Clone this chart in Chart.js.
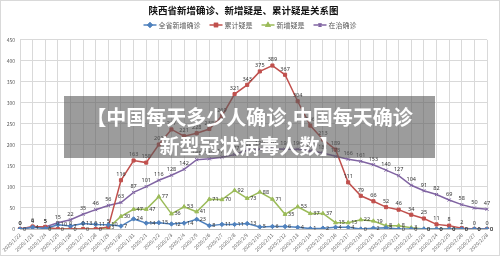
<!DOCTYPE html>
<html>
<head>
<meta charset="utf-8">
<script src="https://cdn.jsdelivr.net/npm/chart.js@4"></script>
<style>
  html, body { margin: 0; padding: 0; background: #fff; }
  #wrap { position: relative; width: 500px; height: 256px; }
  #banner {
    position: absolute; left: 64px; top: 96px; width: 371px; height: 62px;
    background: rgba(90, 90, 90, 0.6); color: #fff; box-sizing: border-box;
    padding-top: 6px; text-align: center; line-height: 25px;
    font: bold 20px "Noto Sans CJK SC", sans-serif;
  }
</style>
</head>
<body>
<div id="wrap">
  <canvas id="chart" width="500" height="256"></canvas>
  <div id="banner">【中国每天多少人确诊,中国每天确诊<br>新型冠状病毒人数】</div>
</div>
<script>
const dates = [
  '2020/1/22', '2020/1/23', '2020/1/24', '2020/1/25', '2020/1/26', '2020/1/27', '2020/1/28',
  '2020/1/29', '2020/1/30', '2020/1/31', '2020/2/1', '2020/2/2', '2020/2/3', '2020/2/4',
  '2020/2/5', '2020/2/6', '2020/2/7', '2020/2/8', '2020/2/9', '2020/2/10', '2020/2/11',
  '2020/2/12', '2020/2/13', '2020/2/14', '2020/2/15', '2020/2/16', '2020/2/17', '2020/2/18',
  '2020/2/19', '2020/2/20', '2020/2/21', '2020/2/22', '2020/2/23', '2020/2/24', '2020/2/25',
  '2020/2/26', '2020/2/27', '2020/2/28'
];
// 全省新增确诊
const newConfirmed = [0, 4, 1, 10, 7, 13, 11, 10, 7, 24, 14, 15, 12, 14, 23, 8, 11, 11, 13, 5,
  6, 6, 4, 1, 2, 4, 4, 0, 2, 3, 0, 0, 0, 0, 0, 0, 0, 0];
// 累计疑是
const cumSuspected = [0, 6, 5, 0, 0, 0, 0, 5, 116, 163, 158, 201, 237, 221, 228, 238, 269, 321, 343, 375,
  389, 367, 304, 246, 213, 189, 111, 79, 66, 52, 46, 34, 25, 11, 8, 2, 0, 0];
// 新增疑是
const newSuspected = [null, null, 0, 0, 0, 0, 0, 3, 30, 47, 47, 77, 36, 53, 41, 71, 70, 92, 73, 88,
  71, 35, 53, 37, 37, 15, 15, 22, 19, 8, 8, 3, 0, 0, 0, 0, 0, 0];
// 在治确诊
const inTreatment = [0, 4, 5, 15, 22, 35, 46, 56, 63, 87, 101, 116, 128, 142, 165, 167, 171, 177, 188, 190,
  191, 190, 190, 186, 181, 173, 166, 161, 153, 140, 127, 104, 91, 82, 69, 58, 50, 47];

const yMax = 450;
const yStep = 50;

Chart.defaults.font.family = '"Noto Sans CJK SC", "Noto Sans", sans-serif';

// white background and thin frame like the Excel chart area
const frame = {
  id: 'frame',
  beforeDraw(chart) {
    const c = chart.ctx;
    c.save();
    c.fillStyle = '#fff';
    c.fillRect(0, 0, chart.width, chart.height);
    c.strokeStyle = '#d9d9d9';
    c.lineWidth = 1;
    c.strokeRect(0.5, 0.5, chart.width - 1, chart.height - 1);
    c.restore();
  }
};

// legend with a line sample and marker, Excel style
const lineLegend = {
  id: 'lineLegend',
  afterDraw(chart) {
    const c = chart.ctx;
    const y = 25;
    const sample = 13, gapText = 2, gapItem = 9;
    c.save();
    c.font = '7px "Noto Sans CJK SC"';
    const sets = chart.data.datasets;
    let total = 0;
    sets.forEach(d => { total += sample + gapText + c.measureText(d.label).width; });
    total += gapItem * (sets.length - 1);
    let x = 250 - total / 2;
    sets.forEach(d => {
      c.strokeStyle = d.borderColor;
      c.lineWidth = 1.5;
      c.beginPath();
      c.moveTo(x, y);
      c.lineTo(x + sample, y);
      c.stroke();
      Chart.helpers.drawPoint(c, {
        pointStyle: d.pointStyle, radius: 2, borderWidth: 1
      }, x + sample / 2, y);
      c.fillStyle = d.borderColor;
      Chart.helpers.drawPoint(c, { pointStyle: d.pointStyle, radius: 2, borderWidth: 1 }, x + sample / 2, y);
      c.fill();
      x += sample + gapText;
      c.fillStyle = '#595959';
      c.textBaseline = 'middle';
      c.textAlign = 'left';
      c.fillText(d.label, x, y);
      x += c.measureText(d.label).width + gapItem;
    });
    c.restore();
  }
};

// value labels: above for red / purple, to the right for blue / green
const valueLabels = {
  id: 'valueLabels',
  afterDatasetsDraw(chart) {
    const c = chart.ctx;
    c.save();
    c.font = '5.5px "Noto Sans", sans-serif';
    c.fillStyle = '#333';
    chart.data.datasets.forEach((d, i) => {
      const meta = chart.getDatasetMeta(i);
      meta.data.forEach((pt, j) => {
        const v = d.data[j];
        if (v === null) return;
        if (d.labelPos === 'top') {
          c.textAlign = 'center';
          c.textBaseline = 'bottom';
          c.fillText(v, pt.x, pt.y - 3);
        } else {
          c.textAlign = 'left';
          c.textBaseline = 'middle';
          c.fillText(v, pt.x + 3, pt.y);
        }
      });
    });
    c.restore();
  }
};

function series(label, data, color, style, labelPos) {
  return {
    label, data, labelPos,
    borderColor: color, backgroundColor: color,
    pointStyle: style, pointRadius: 2.2, pointBorderWidth: 1,
    borderWidth: 1.5, tension: 0, spanGaps: false
  };
}

new Chart(document.getElementById('chart'), {
  type: 'line',
  data: {
    labels: dates,
    datasets: [
      series('全省新增确诊', newConfirmed, '#4F81BD', 'rectRot', 'right'),
      series('累计疑是', cumSuspected, '#C0504D', 'rect', 'top'),
      series('新增疑是', newSuspected, '#9BBB59', 'triangle', 'right'),
      series('在治确诊', inTreatment, '#8064A2', 'crossRot', 'top')
    ]
  },
  options: {
    responsive: false,
    animation: false,
    layout: { padding: { left: 0, right: 13, top: 0, bottom: 0 } },
    plugins: {
      legend: { display: false },
      tooltip: { enabled: false },
      title: {
        display: true,
        text: '陕西省新增确诊、新增疑是、累计疑是关系图',
        color: '#111',
        font: { size: 9.5, weight: 'bold' },
        padding: { top: 5, bottom: 23.5 }
      }
    },
    scales: {
      x: {
        grid: { color: '#d9d9d9', drawTicks: false },
        border: { color: '#bfbfbf' },
        ticks: {
          autoSkip: false, minRotation: 45, maxRotation: 45,
          font: { size: 5 }, color: '#595959', padding: 3
        },
        afterFit(scale) { scale.height = 27; }
      },
      y: {
        min: 0, max: yMax,
        grid: { color: '#d9d9d9', drawTicks: false },
        border: { display: false },
        ticks: { stepSize: yStep, font: { size: 5 }, color: '#595959', padding: 5 },
        afterFit(scale) { scale.width = 20; }
      }
    }
  },
  plugins: [frame, lineLegend, valueLabels]
});
</script>
</body>
</html>
